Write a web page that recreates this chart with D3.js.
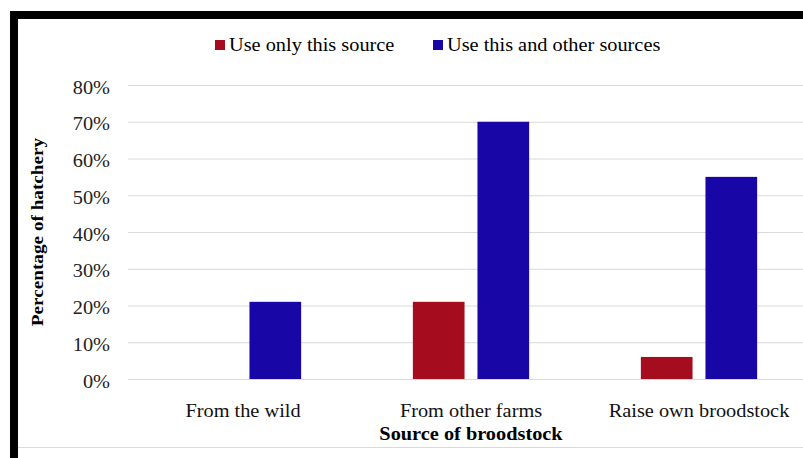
<!DOCTYPE html>
<html>
<head>
<meta charset="utf-8">
<script src="https://cdn.jsdelivr.net/npm/d3@7"></script>
<style>
  html, body { margin: 0; padding: 0; background: #fff; }
  svg { display: block; }
  text { font-family: "Liberation Serif", "Times New Roman", serif; }
</style>
</head>
<body>
<svg id="chart" width="803" height="458"></svg>
<script>
// Broodstock sources used by hatcheries
const categories = ["From the wild", "From other farms", "Raise own broodstock"];
const seriesNames = ["Use only this source", "Use this and other sources"];
const onlyThisSource = [0, 0.21, 0.06];
const thisAndOthers = [0.21, 0.70, 0.55];
const seriesColors = ["#A50D1F", "#1806A6"];
const yTicks = [0, 0.1, 0.2, 0.3, 0.4, 0.5, 0.6, 0.7, 0.8];

const W = 803, H = 458;
const stretch = 1.13; // glyphs are drawn slightly wide
const svg = d3.select("#chart");

// frame
svg.append("rect").attr("x", 10).attr("y", 11).attr("width", W - 10).attr("height", 8).attr("fill", "#000");
svg.append("rect").attr("x", 10).attr("y", 11).attr("width", 8).attr("height", H - 11).attr("fill", "#000");
svg.append("line").attr("x1", 18).attr("x2", W).attr("y1", 447.5).attr("y2", 447.5)
  .attr("stroke", "#d9d9d9").attr("stroke-width", 1);

const plotLeft = 128, plotRight = 813;
const y = d3.scaleLinear().domain([0, 0.8]).range([379, 85]);
const x0 = d3.scaleBand().domain(categories).range([plotLeft + 1, plotRight]).paddingInner(0.49).paddingOuter(0.245);
const x1 = d3.scaleBand().domain(seriesNames).range([0, x0.bandwidth()]).paddingInner(0.2).paddingOuter(0);

// y axis with gridlines
const yAxis = svg.append("g")
  .attr("transform", `translate(${plotLeft},0)`)
  .call(d3.axisLeft(y).tickValues(yTicks).tickFormat(d3.format(".0%"))
    .tickSize(-(W - plotLeft)).tickPadding(18));
yAxis.select(".domain").remove();
yAxis.selectAll(".tick line").attr("stroke", "#d9d9d9").attr("stroke-width", 1);
yAxis.selectAll(".tick text")
  .attr("x", -18 / stretch).attr("dy", "0.45em")
  .attr("transform", `scale(${stretch},1)`)
  .attr("font-size", 18).attr("fill", "#222")
  .style("font-family", '"Liberation Serif", serif');

// bars
const rows = categories.map((c, i) => ({ cat: c, vals: [onlyThisSource[i], thisAndOthers[i]] }));
const groups = svg.append("g").selectAll("g").data(rows).join("g")
  .attr("transform", d => `translate(${x0(d.cat)},0)`);
groups.selectAll("rect")
  .data(d => d.vals.map((v, j) => ({ s: seriesNames[j], v, j })).filter(e => e.v > 0))
  .join("rect")
  .attr("x", e => x1(e.s))
  .attr("width", x1.bandwidth())
  .attr("y", e => y(e.v))
  .attr("height", e => y(0) - y(e.v))
  .attr("fill", e => seriesColors[e.j]);

// category labels
const xAxis = svg.append("g")
  .attr("transform", `translate(0,379)`)
  .call(d3.axisBottom(x0).tickSize(0));
xAxis.select(".domain").remove();
xAxis.selectAll(".tick text")
  .attr("y", 0).attr("dy", 38)
  .attr("transform", `scale(${stretch},1)`)
  .attr("font-size", 18).attr("fill", "#111")
  .style("font-family", '"Liberation Serif", serif');

// helper for stretched text
function label(txt, cx, cy, opts = {}) {
  const g = svg.append("g").attr("transform", `translate(${cx},${cy})${opts.rotate ? ` rotate(${opts.rotate})` : ""}`);
  g.append("text")
    .attr("transform", `scale(${stretch},1)`)
    .attr("text-anchor", opts.anchor || "middle")
    .attr("font-size", opts.size || 18)
    .attr("font-weight", opts.bold ? "bold" : "normal")
    .attr("fill", "#000")
    .text(txt);
  return g;
}

label("Source of broodstock", (plotLeft + 1 + plotRight) / 2, 440, { bold: true });
label("Percentage of hatchery", 43, 232, { bold: true, rotate: -90, size: 17 });

// legend
const legendX = [215, 433];
seriesNames.forEach((s, i) => {
  svg.append("rect").attr("x", legendX[i]).attr("y", 40).attr("width", 10).attr("height", 10)
    .attr("fill", seriesColors[i]);
  label(s, legendX[i] + 14, 51, { anchor: "start" });
});
</script>
</body>
</html>
